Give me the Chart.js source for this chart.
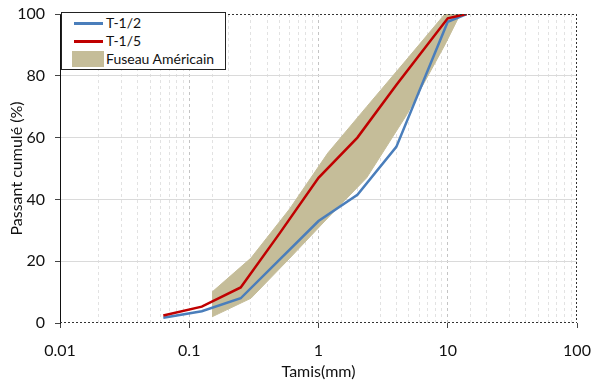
<!DOCTYPE html>
<html>
<head>
<meta charset="utf-8">
<script src="https://cdn.jsdelivr.net/npm/chart.js@4/dist/chart.umd.min.js"></script>
<style>
  body { margin: 0; background: #fff; }
  #wrap { position: relative; width: 594px; height: 381px; }
  #legend {
    position: absolute; left: 61px; top: 12px; width: 163px; height: 56px;
    border: 1px solid #222; background: #fff; font-family: Lato, sans-serif; font-size: 14px; color: #111;
  }
  .row { position: absolute; left: 0; height: 18px; line-height: 18px; }
  .row span.sw { position: absolute; left: 12px; top: 8px; width: 29px; height: 3px; }
  .row span.box { position: absolute; left: 10px; top: 1px; width: 32px; height: 16px; background: #c5bd99; }
  .row span.lb { position: absolute; left: 44px; white-space: nowrap; }
</style>
</head>
<body>
<div id="wrap">
  <canvas id="myChart" width="594" height="381"></canvas>
  <div id="legend">
    <div class="row" style="top:1px"><span class="sw" style="background:#4a7ebb"></span><span class="lb">T-1/2</span></div>
    <div class="row" style="top:19px"><span class="sw" style="background:#c00000"></span><span class="lb">T-1/5</span></div>
    <div class="row" style="top:37px"><span class="box"></span><span class="lb">Fuseau Américain</span></div>
  </div>
</div>
<script>
'use strict';

// sieve openings (mm) and cumulative passing (%)
let sieves = [0.063, 0.125, 0.25, 0.5, 1, 2, 4, 10, 14];
let passT12 = [1.7, 3.8, 8, 20.5, 33, 41.5, 57, 97.5, 100];
let passT15 = [2.4, 5.3, 11.5, 29, 47, 60, 77, 98.6, 100];

// american grading envelope
let fuseauSieves = [0.15, 0.3, 0.6, 1.18, 2.36, 4.75, 9.5, 12.5];
let fuseauMin = [2, 8, 21, 34, 47, 67, 90, 100];
let fuseauMax = [10, 21, 37, 55, 70, 85, 100, 100];

let xTicks = [0.01, 0.1, 1, 10, 100];

function toPoints(xs, ys) {
    let pts = [];
    for (let i = 0; i < xs.length; i++) {
        pts.push({x: xs[i], y: ys[i]});
    }
    return pts;
}

// closed outline: upper bound left to right, lower bound back
let fuseauShape = toPoints(fuseauSieves, fuseauMax);
for (let i = fuseauSieves.length - 1; i >= 0; i--) {
    fuseauShape.push({x: fuseauSieves[i], y: fuseauMin[i]});
}

function isDecade(v) {
    return xTicks.some(t => Math.abs(t - v) < t * 1e-6);
}

let framePlugin = {
    id: 'frame',
    afterDatasetsDraw(chart) {
        let a = chart.chartArea;
        let c = chart.ctx;
        c.save();
        c.strokeStyle = '#333';
        c.lineWidth = 1;
        c.setLineDash([2, 2]);
        c.beginPath();
        c.moveTo(a.left, a.top + 0.5); c.lineTo(a.right, a.top + 0.5);
        c.moveTo(a.right - 0.5, a.top); c.lineTo(a.right - 0.5, a.bottom);
        c.moveTo(a.left, a.bottom - 0.5); c.lineTo(a.right, a.bottom - 0.5);
        c.stroke();
        c.restore();
    }
};

Chart.defaults.font.family = 'Lato, sans-serif';
Chart.defaults.color = '#111';

let ctx = document.getElementById('myChart').getContext('2d');

let chart = new Chart(ctx, {
    type: 'line',
    data: {
        datasets: [
            {
                label: 'T-1/2',
                data: toPoints(sieves, passT12),
                borderColor: '#4a7ebb',
                borderWidth: 2.5,
                pointRadius: 0,
                fill: false,
                order: 2
            },
            {
                label: 'T-1/5',
                data: toPoints(sieves, passT15),
                borderColor: '#c00000',
                borderWidth: 2.5,
                pointRadius: 0,
                fill: false,
                order: 1
            },
            {
                label: 'Fuseau Américain',
                data: fuseauShape,
                borderColor: '#c5bd99',
                backgroundColor: '#c5bd99',
                borderWidth: 1,
                pointRadius: 0,
                fill: 'shape',
                order: 3
            }
        ]
    },
    options: {
        responsive: false,
        animation: false,
        layout: { autoPadding: false, padding: { top: 14, right: 17, left: 0, bottom: 0 } },
        plugins: {
            legend: { display: false },
            tooltip: { enabled: false }
        },
        scales: {
            x: {
                type: 'logarithmic',
                min: 0.01,
                max: 100,
                afterFit(scale) {
                    scale.height = 58;
                    scale.paddingLeft = 0;
                    scale.paddingRight = 0;
                },
                border: { display: false, dash: [3, 3] },
                grid: {
                    tickLength: 5,
                    color(c) {
                        let v = c.tick ? c.tick.value : 0;
                        if (v <= 0.0100001 || v >= 99.999) return 'rgba(0,0,0,0)';
                        return isDecade(v) ? '#c4c4c4' : '#e2e2e2';
                    },
                    tickColor(c) {
                        let v = c.tick ? c.tick.value : 0;
                        return isDecade(v) ? '#444' : 'rgba(0,0,0,0)';
                    }
                },
                ticks: {
                    autoSkip: false,
                    maxRotation: 0,
                    padding: 13,
                    font: { size: 16 },
                    callback(value) {
                        return isDecade(value) ? String(value) : '';
                    }
                },
                title: {
                    display: true,
                    text: 'Tamis(mm)',
                    font: { size: 16 },
                    padding: { top: 0, bottom: 0 }
                }
            },
            y: {
                min: 0,
                max: 100,
                afterFit(scale) {
                    scale.width = 60;
                    scale.paddingTop = 0;
                    scale.paddingBottom = 0;
                },
                border: { display: true, color: '#111', width: 1 },
                grid: {
                    tickLength: 5,
                    color(c) {
                        let v = c.tick ? c.tick.value : 0;
                        return (v === 0 || v === 100) ? 'rgba(0,0,0,0)' : '#dadada';
                    },
                    tickColor: '#444'
                },
                ticks: {
                    stepSize: 20,
                    padding: 10,
                    font: { size: 16 }
                },
                title: {
                    display: true,
                    text: 'Passant cumulé (%)',
                    font: { size: 16 },
                    padding: { top: 7, bottom: 0 }
                }
            }
        }
    },
    plugins: [framePlugin]
});
</script>
</body>
</html>
